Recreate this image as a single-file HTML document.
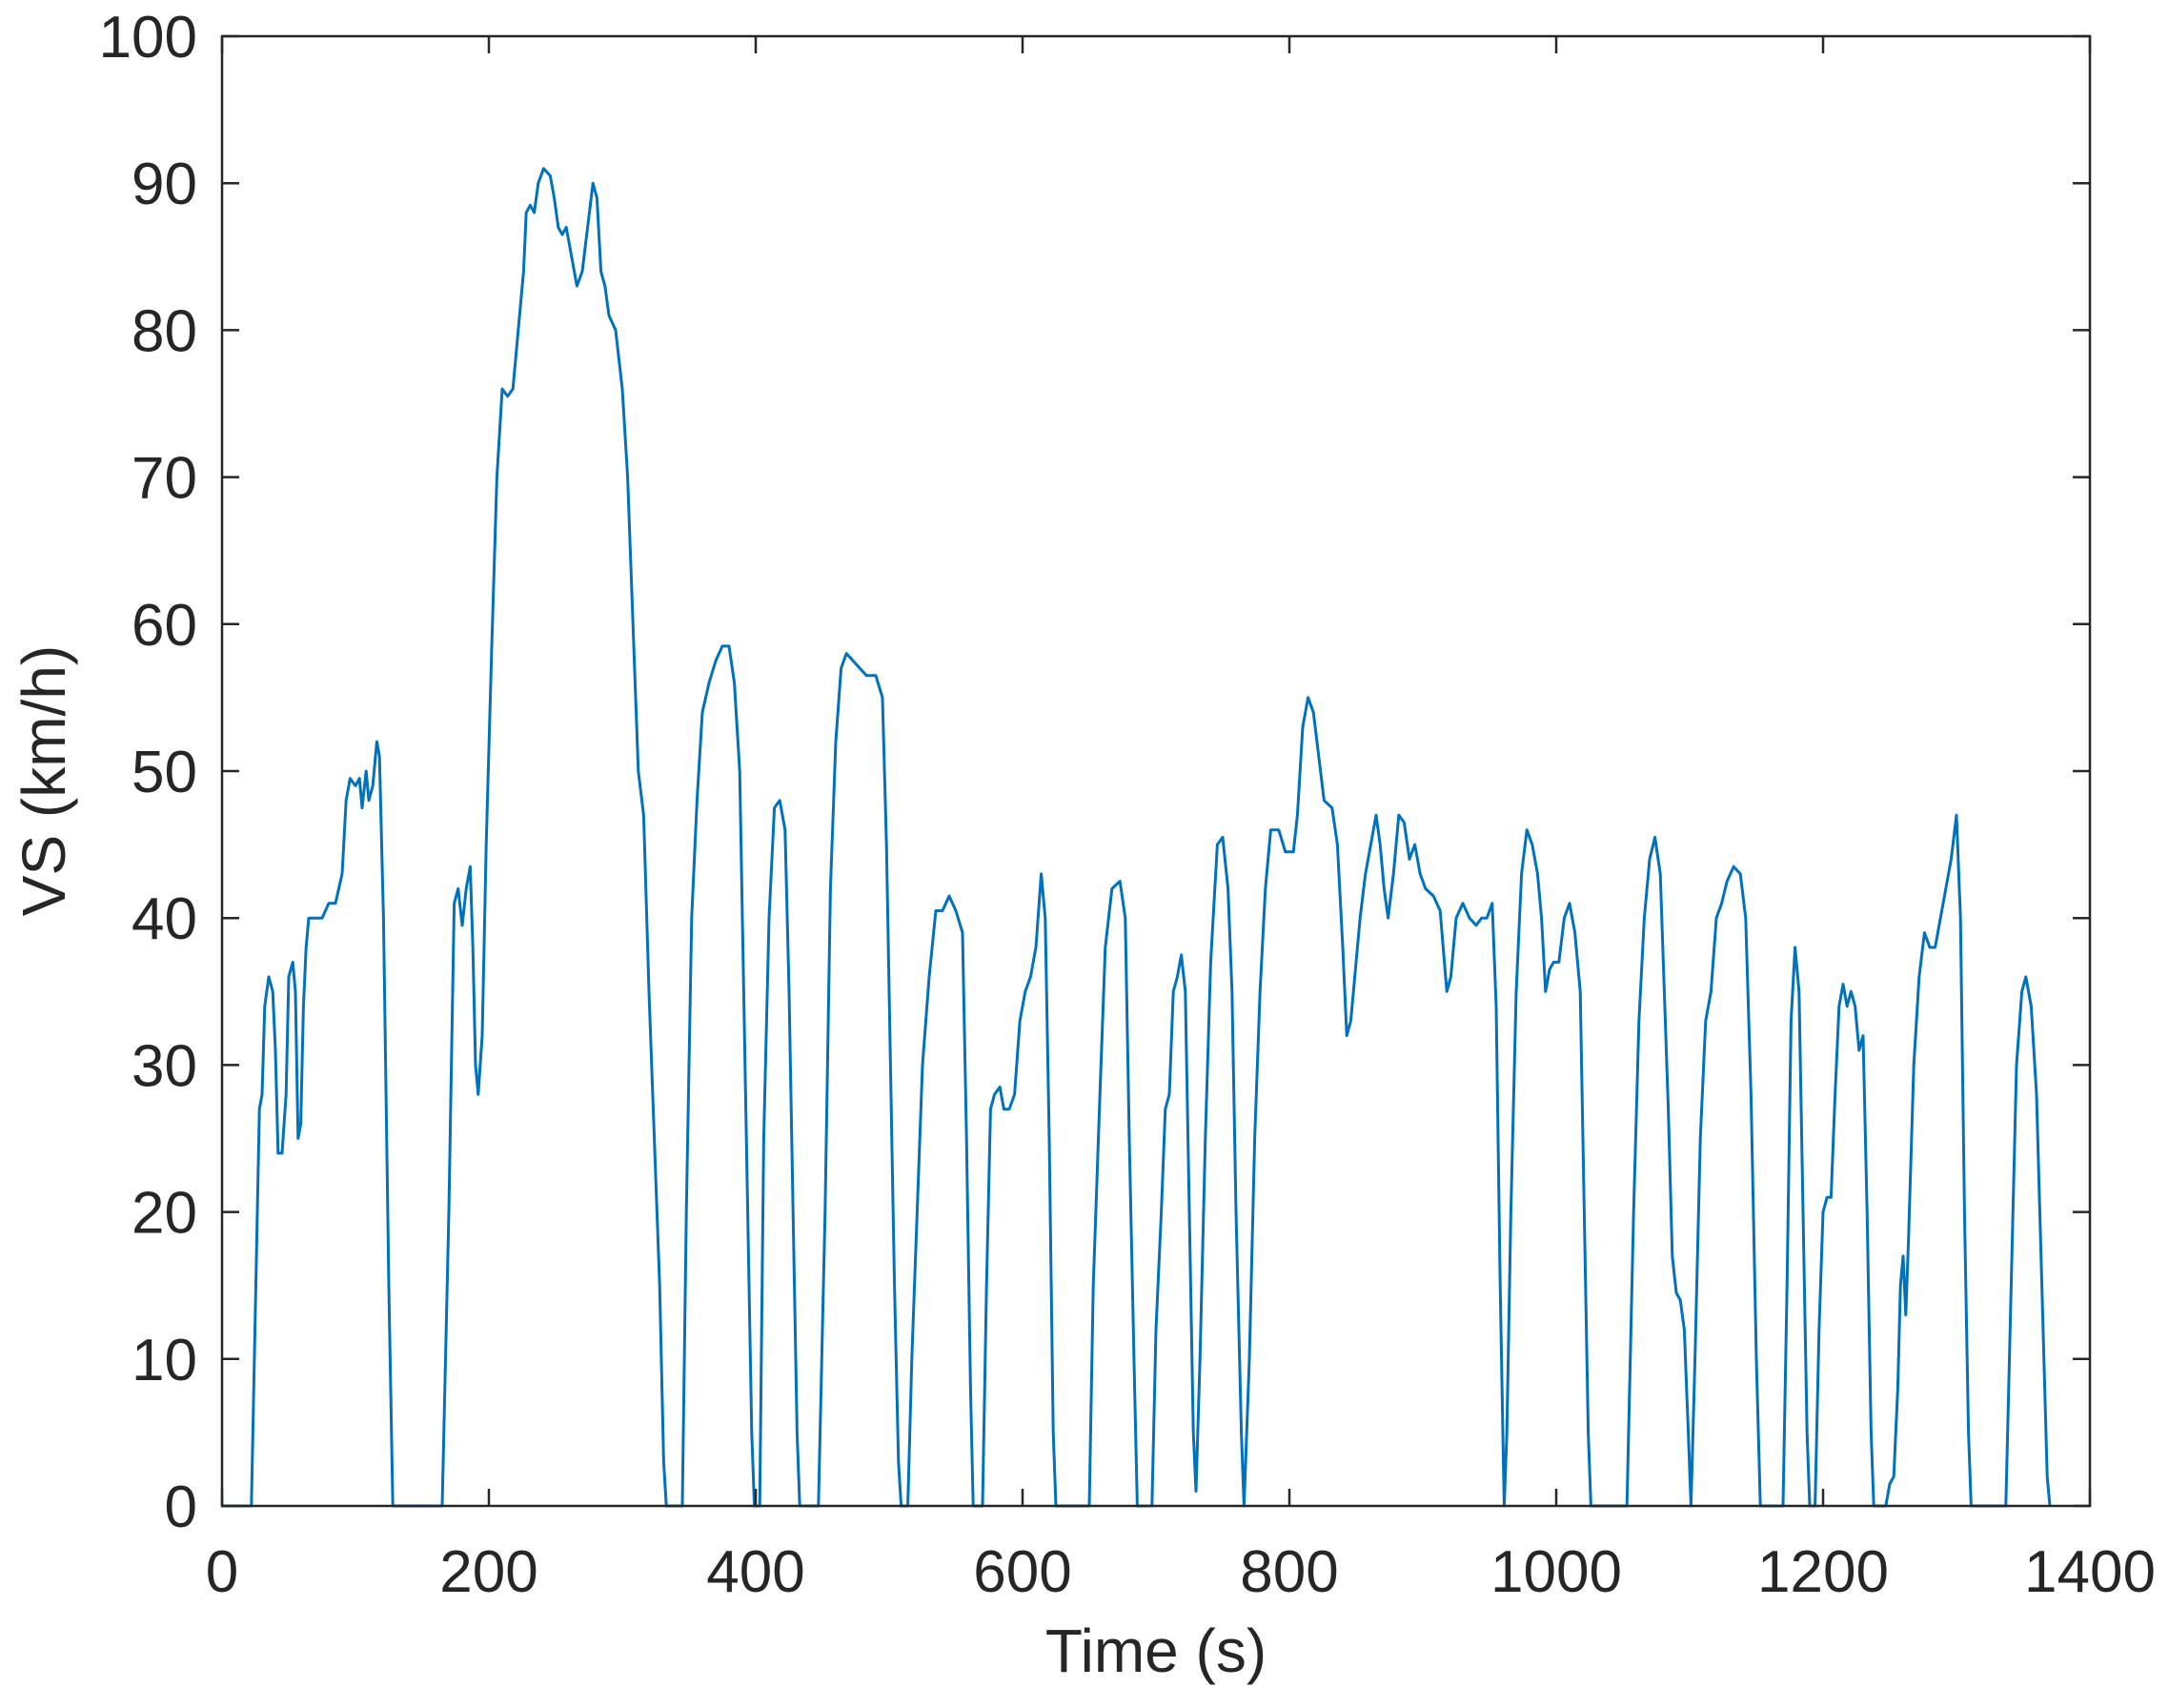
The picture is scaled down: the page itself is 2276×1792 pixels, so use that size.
<!DOCTYPE html>
<html><head><meta charset="utf-8"><style>
html,body{margin:0;padding:0;background:#fff;}
svg{display:block;}
text{font-family:"Liberation Sans",Arial,sans-serif;fill:#262626;}
</style></head><body>
<svg id="chart" width="2276" height="1792" viewBox="0 0 2276 1792" xmlns="http://www.w3.org/2000/svg">
<path id="series" fill="none" stroke="#0072BD" stroke-width="3" stroke-linejoin="round"/>
<g id="axes"></g>
<text x="1213" y="1754" font-size="64" text-anchor="middle">Time (s)</text>
<text x="0" y="0" font-size="64" text-anchor="middle" transform="translate(68,819) rotate(-90)">VS (km/h)</text>
</svg>
<script>
const times = [0,22,28,30,32,35,38,40,42,45,48,50,53,55,57,59,61,63,65,70,75,80,85,90,93,96,100,103,105,108,110,113,116,118,121,125,128,165,170,174,177,180,183,186,188,190,192,195,198,202,206,210,214,218,222,226,228,231,234,237,241,246,249,252,255,258,262,266,270,274,278,281,284,287,290,295,300,304,308,312,316,320,324,328,331,333,345,348,352,356,360,365,370,375,380,384,388,391,394,397,399,403,406,410,414,418,422,425,428,431,433,447,452,456,460,464,468,473,478,483,490,495,498,501,504,507,509,514,517,521,525,530,535,540,545,550,555,558,561,563,570,573,576,579,583,586,590,594,598,602,606,610,614,617,620,623,625,650,653,658,662,667,673,677,680,684,686,697,700,704,707,710,713,716,719,722,725,728,730,733,737,741,746,750,754,757,760,764,766,770,774,778,782,786,792,797,803,806,810,814,818,822,826,832,836,840,843,846,849,853,857,861,865,868,871,874,878,882,886,890,894,898,902,908,913,918,921,925,930,935,940,944,948,952,955,958,961,963,966,970,974,978,982,986,989,992,995,998,1002,1006,1010,1014,1018,1021,1024,1026,1053,1058,1062,1066,1070,1074,1078,1081,1084,1087,1090,1093,1096,1099,1101,1104,1108,1112,1116,1120,1124,1128,1133,1138,1142,1146,1150,1153,1170,1173,1176,1179,1182,1185,1188,1190,1194,1197,1200,1203,1206,1209,1212,1215,1218,1221,1224,1227,1230,1233,1236,1238,1247,1250,1253,1256,1258,1260,1262,1264,1268,1272,1276,1280,1284,1288,1292,1296,1300,1303,1306,1309,1311,1337,1341,1345,1349,1352,1356,1360,1364,1368,1370];
const speeds = [0,0,27,28,34,36,35,31,24,24,28,36,37,35,25,26,34,38,40,40,40,41,41,43,48,49.5,49,49.5,47.5,50,48,49,52,51,40,15,0,0,20,41,42,39.5,42,43.5,38,30,28,32,45,58,70,76,75.5,76,80,84,88,88.5,88,90,91,90.5,89,87,86.5,87,85,83,84,87,90,89,84,83,81,80,76,70,60,50,47,35,25,15,3,0,0,20,40,48,54,56,57.5,58.5,58.5,56,50,35,20,5,0,0,25,40,47.5,48,46,35,20,5,0,0,20,42,52,57,58,57.5,57,56.5,56.5,55,45,30,15,3,0,0,10,20,30,36,40.5,40.5,41.5,40.5,39,25,8,0,0,15,27,28,28.5,27,27,28,33,35,36,38,43,40,25,5,0,0,15,28,38,42,42.5,40,25,8,0,0,12,20,27,28,35,36,37.5,35,20,5,1,10,25,37,45,45.5,42,35,20,5,0,10,25,35,42,46,46,44.5,44.5,47,53,55,54,51,48,47.5,45,38,32,33,36,40,43,45,47,45,42,40,43,47,46.5,44,45,43,42,41.5,40.5,35,36,40,41,40,39.5,40,40,41,34,15,0,5,20,35,43,46,45,43,40,35,36.5,37,37,40,41,39,35,20,5,0,0,20,33,40,44,45.5,43,35,27,17,14.5,14,12,5,0,10,25,33,35,40,41,42.5,43.5,43,40,28,10,0,0,15,33,38,35,20,5,0,0,12,20,21,21,28,34,35.5,34,35,34,31,32,20,5,0,0,1.5,2,8,15,17,13,18,30,36,39,38,38,40,42,44,47,40,20,5,0,0,15,30,35,36,34,28,15,2,0];
const xTicks = [0,200,400,600,800,1000,1200,1400];
const yTicks = [0,10,20,30,40,50,60,70,80,90,100];

const L=233,R=2193,T=38,B=1580;
const xs=t=>L+(t-0)/1400*(R-L);
const ys=v=>B-(v-0)/100*(B-T);
const NS='http://www.w3.org/2000/svg';
const axes=document.getElementById('axes');
function mk(tag,attrs){const e=document.createElementNS(NS,tag);for(const k in attrs)e.setAttribute(k,attrs[k]);return e;}

let d='';
for(let i=0;i<times.length;i++){d+=(i?'L':'M')+xs(times[i]).toFixed(1)+' '+ys(speeds[i]).toFixed(1);}
document.getElementById('series').setAttribute('d',d);

const box=mk('rect',{x:L,y:T,width:R-L,height:B-T,fill:'none',stroke:'#262626','stroke-width':2.5});


axes.appendChild(box);
const tl=18;
xTicks.forEach(t=>{
  const x=xs(t);
  const a=mk('line',{x1:x,y1:B,x2:x,y2:B-tl,stroke:'#262626','stroke-width':2.5});
  
  
  axes.appendChild(a);
  const b=mk('line',{x1:x,y1:T,x2:x,y2:T+tl,stroke:'#262626','stroke-width':2.5});
  
  
  axes.appendChild(b);
  const tx=mk('text',{x:x,y:B+90,'font-size':62,'text-anchor':'middle'});
  tx.textContent=t;
  
  
  axes.appendChild(tx);
});
yTicks.forEach(v=>{
  const y=ys(v);
  const a=mk('line',{x1:L,y1:y,x2:L+tl,y2:y,stroke:'#262626','stroke-width':2.5});
  
  
  axes.appendChild(a);
  const b=mk('line',{x1:R,y1:y,x2:R-tl,y2:y,stroke:'#262626','stroke-width':2.5});
  
  
  axes.appendChild(b);
  const tx=mk('text',{x:L-26,y:y+22,'font-size':62,'text-anchor':'end'});
  tx.textContent=v;
  
  
  axes.appendChild(tx);
});
</script>
</body></html>
